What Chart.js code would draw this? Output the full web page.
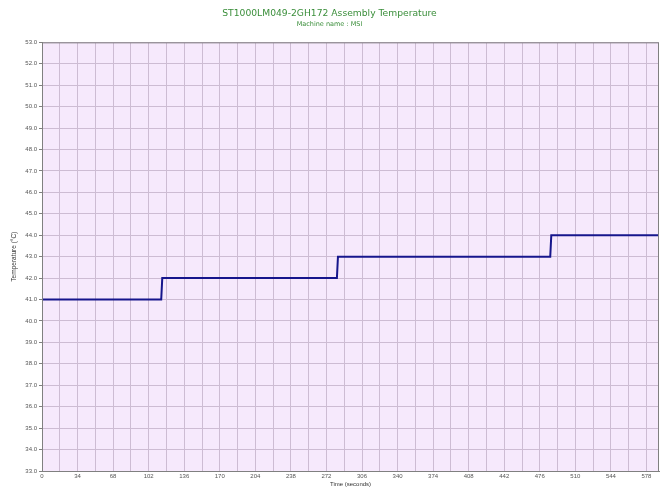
<!DOCTYPE html>
<html>
<head>
<meta charset="utf-8">
<script src="https://cdn.jsdelivr.net/npm/chart.js@4/dist/chart.umd.min.js"></script>
<style>
  html, body { margin: 0; padding: 0; background: #fff; }
  #tempChart { display: block; }
</style>
</head>
<body>
<canvas id="tempChart" width="670" height="502"></canvas>
<script>
const times = [0, 114, 115, 282, 283, 486, 487, 590];
const temps = [41, 41, 42, 42, 43, 43, 44, 44];

const xMin = 0, xMax = 590, xStep = 17, xLabelStep = 34;
const yMin = 33, yMax = 53, yStep = 1;

const chartTitle = 'ST1000LM049-2GH172 Assembly Temperature';
const chartSubtitle = 'Machine name : MSI';
const xTitle = 'Time (seconds)';
const yTitle = 'Temperature (°C)';

// Hintergrund und Rahmen der Plotfläche
const plotArea = {
  id: 'plotArea',
  beforeDraw(chart) {
    const { ctx, chartArea: a } = chart;
    ctx.save();
    ctx.fillStyle = '#f6e9fc';
    ctx.fillRect(a.left, a.top, a.right - a.left, a.bottom - a.top);
    ctx.restore();
  },
  afterDatasetsDraw(chart) {
    const { ctx, chartArea: a } = chart;
    ctx.save();
    ctx.strokeStyle = '#808080';
    ctx.lineWidth = 1;
    ctx.strokeRect(a.left + 0.5, a.top + 0.5, a.right - a.left - 1, a.bottom - a.top);
    ctx.restore();
  }
};

const ctx = document.getElementById('tempChart');

new Chart(ctx, {
  type: 'line',
  data: {
    datasets: [{
      label: 'Temperatur',
      data: times.map((t, i) => ({ x: t, y: temps[i] })),
      borderColor: '#16168c',
      borderWidth: 2,
      pointRadius: 0,
      tension: 0,
      fill: false
    }]
  },
  options: {
    responsive: false,
    animation: false,
    layout: { padding: { left: 0, right: 11, top: 0, bottom: 0 } },
    plugins: {
      legend: { display: false },
      tooltip: { enabled: false },
      title: {
        display: true,
        text: chartTitle,
        color: '#3a8e3a',
        font: { family: 'DejaVu Sans', size: 9.2, weight: 'normal' },
        padding: { top: 8, bottom: 0 }
      },
      subtitle: {
        display: true,
        text: chartSubtitle,
        color: '#3a8e3a',
        font: { family: 'DejaVu Sans', size: 6.5, weight: 'normal' },
        padding: { top: 1.5, bottom: 14 }
      }
    },
    scales: {
      x: {
        type: 'linear',
        min: xMin,
        max: xMax,
        afterFit(scale) { scale.height = 31; },
        border: { display: true, color: '#808080' },
        grid: { color: '#cdbcd3', drawTicks: false },
        ticks: {
          stepSize: xStep,
          includeBounds: false,
          autoSkip: false,
          maxRotation: 0,
          padding: 2,
          color: '#555',
          font: { family: 'Liberation Sans', size: 6 },
          callback: v => (v % xLabelStep === 0 ? String(v) : '')
        },
        title: {
          display: true,
          text: xTitle,
          color: '#333',
          font: { family: 'Liberation Sans', size: 6 },
          padding: { top: 0, bottom: 14 }
        }
      },
      y: {
        min: yMin,
        max: yMax,
        afterFit(scale) { scale.width = 42; },
        border: { display: true, color: '#808080' },
        grid: { color: '#cdbcd3', tickLength: 3, tickColor: '#808080' },
        ticks: {
          stepSize: yStep,
          autoSkip: false,
          padding: 2,
          color: '#555',
          font: { family: 'Liberation Sans', size: 6 },
          callback: v => v.toFixed(1)
        },
        title: {
          display: true,
          text: yTitle,
          color: '#333',
          font: { family: 'Liberation Sans', size: 6.5 },
          padding: { top: 10, bottom: 0 }
        }
      }
    }
  },
  plugins: [plotArea]
});
</script>
</body>
</html>
